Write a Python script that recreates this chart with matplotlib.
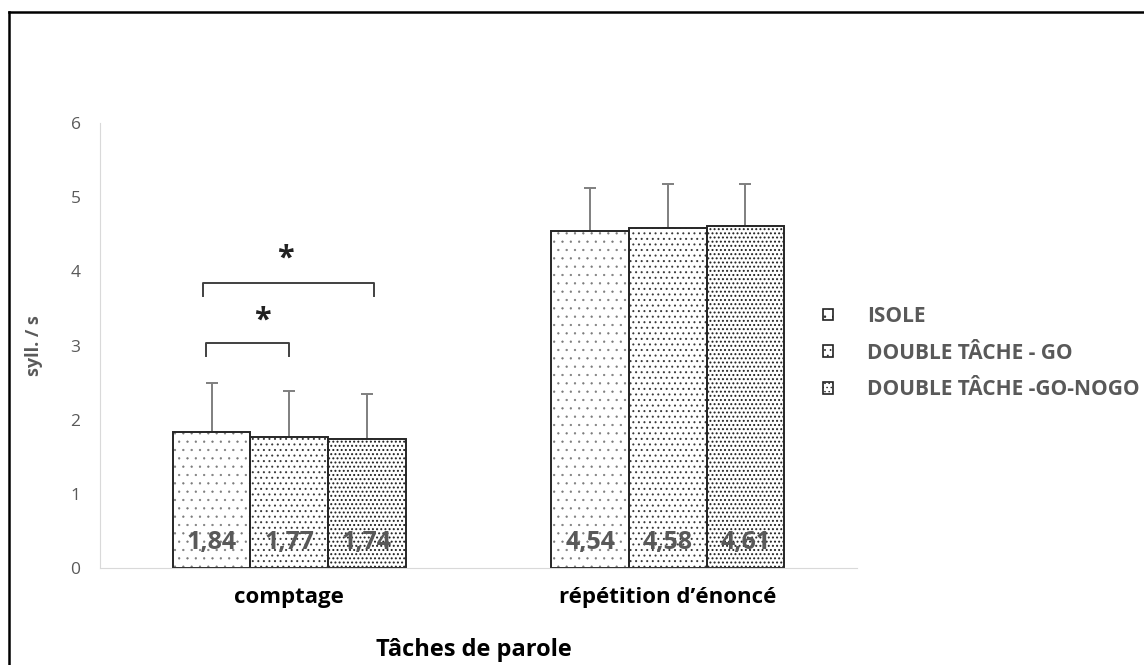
import numpy as np
import matplotlib.pyplot as plt
from matplotlib.patches import Patch
from matplotlib.lines import Line2D

plt.rcParams["font.family"] = ["Open Sans", "DejaVu Sans"]
plt.rcParams["hatch.linewidth"] = 0.5

categories = ["comptage", "répétition d\u2019énoncé"]
series = ["ISOLE", "DOUBLE TÂCHE - GO", "DOUBLE TÂCHE -GO-NOGO"]
means = {
    "ISOLE": [1.84, 4.54],
    "DOUBLE TÂCHE - GO": [1.77, 4.58],
    "DOUBLE TÂCHE -GO-NOGO": [1.74, 4.61],
}
sds = {
    "ISOLE": [0.66, 0.58],
    "DOUBLE TÂCHE - GO": [0.61, 0.60],
    "DOUBLE TÂCHE -GO-NOGO": [0.60, 0.57],
}
labels = {
    "ISOLE": ["1,84", "4,54"],
    "DOUBLE TÂCHE - GO": ["1,77", "4,58"],
    "DOUBLE TÂCHE -GO-NOGO": ["1,74", "4,61"],
}
hatches = ["..", "...", "...."]
hatch_colors = ["#7a7a7a", "#3a3a3a", "#202020"]
hatch_widths = [0.4, 0.7, 0.9]

grey = "#595959"

fig = plt.figure(figsize=(11.44, 6.65), dpi=100)
ax = fig.add_axes([100 / 1144, 1 - 568 / 665, 757 / 1144, 445 / 665])

x = np.arange(len(categories))
width = 0.205

for i, name in enumerate(series):
    pos = x + (i - 1) * width
    # hatch layer
    with plt.rc_context({"hatch.linewidth": hatch_widths[i]}):
        ax.bar(
            pos,
            means[name],
            width,
            color="white",
            edgecolor=hatch_colors[i],
            linewidth=0,
            hatch=hatches[i],
            zorder=2
        )
    # outline
    ax.bar(
        pos,
        means[name],
        width,
        fill=False,
        edgecolor="#262626",
        linewidth=1.4,
        zorder=2.5
    )
    ax.errorbar(
        pos,
        means[name],
        yerr=[np.zeros(len(pos)), sds[name]],
        fmt="none",
        ecolor="#7f7f7f",
        elinewidth=1.4,
        capsize=4,
        capthick=1.4,
        zorder=1
    )
    for xp, txt in zip(pos, labels[name]):
        ax.text(
            xp, 0.35, txt,
            ha="center", va="center",
            fontsize=18, fontweight="bold", color=grey,
            zorder=3
        )

# significance brackets: x0, x1, bracket y, star x, star y
brackets = [(-0.22, 0.0, 3.03, -0.071, 3.33), (-0.228, 0.225, 3.84, -0.01, 4.17)]
for x0, x1, yb, xs, ys in brackets:
    ax.plot(
        [x0, x0, x1, x1],
        [yb - 0.17, yb, yb, yb - 0.17],
        color="#404040",
        linewidth=1.4
    )
    ax.text(
        xs, ys, "*",
        ha="center", va="center",
        fontsize=22, fontweight="bold", color="#222222"
    )

ax.set_xlim(-0.5, 1.5)
ax.set_ylim(0, 6)
ax.set_yticks(range(0, 7))
ax.set_xticks(x)
ax.set_xticklabels(categories, fontsize=16, fontweight="bold", color="black")
ax.tick_params(axis="y", labelsize=12.5, colors=grey, length=0, pad=14)
ax.tick_params(axis="x", length=0, pad=14)
for sp in ["top", "right"]:
    ax.spines[sp].set_visible(False)
ax.spines["left"].set_color("#d9d9d9")
ax.spines["bottom"].set_color("#d9d9d9")

ax.set_ylabel("syll. / s", fontsize=13, fontweight="bold", color=grey, labelpad=20)

fig.text(
    474 / 1144, 1 - 650 / 665, "Tâches de parole",
    ha="center", va="center",
    fontsize=17, fontweight="bold", color="black"
)

handles = []
for h, hc, hw in zip(hatches, hatch_colors, hatch_widths):
    with plt.rc_context({"hatch.linewidth": hw}):
        handles.append(Patch(facecolor="white", edgecolor="#222222", hatch=h, linewidth=1.2))
ax.legend(
    handles,
    series,
    loc="center left",
    bbox_to_anchor=(823 / 1144, 1 - 353 / 665),
    bbox_transform=fig.transFigure,
    frameon=False,
    handlelength=0.5,
    handleheight=0.5,
    handletextpad=1.6,
    labelspacing=0.75,
    prop={"size": 15, "weight": "bold"},
    labelcolor=grey,
    borderaxespad=0,
    borderpad=0
)

# frame lines (top and left only)
fig.add_artist(Line2D([9 / 1144, 1], [1 - 12 / 665, 1 - 12 / 665],
                      transform=fig.transFigure, color="black", linewidth=1.8))
fig.add_artist(Line2D([9 / 1144, 9 / 1144], [0, 1 - 12 / 665],
                      transform=fig.transFigure, color="black", linewidth=1.8))

fig.savefig("out.png", dpi=100)
